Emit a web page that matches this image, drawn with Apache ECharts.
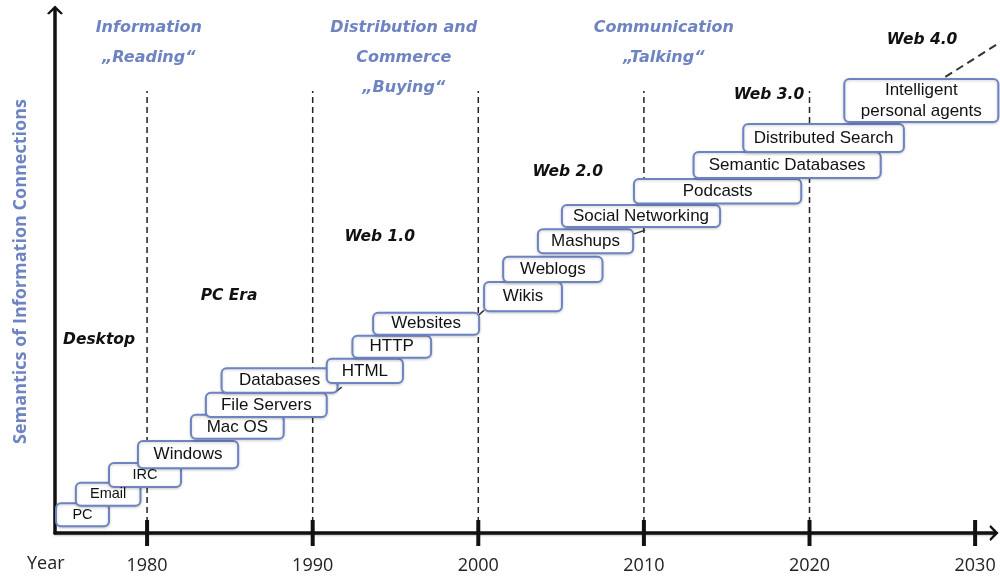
<!DOCTYPE html>
<html>
<head>
<meta charset="utf-8">
<script src="https://cdn.jsdelivr.net/npm/echarts@6/dist/echarts.min.js"></script>
<style>
  html, body { margin: 0; padding: 0; background: #fff; }
  #chart { width: 1000px; height: 576px; }
</style>
</head>
<body>
<div id="chart"></div>
<script>
// web evolution timeline: boxes = technologies (year span x semantic level)
const techNames = ['PC', 'Email', 'IRC', 'Windows', 'Mac OS', 'File Servers', 'Databases', 'HTML', 'HTTP', 'Websites',
  'Wikis', 'Weblogs', 'Mashups', 'Social Networking', 'Podcasts', 'Semantic Databases', 'Distributed Search', 'Intelligent\npersonal agents'];
const techStart = [1974.5, 1975.7, 1977.7, 1979.45, 1982.65, 1983.55, 1984.5, 1990.85, 1992.4, 1993.65,
  2000.35, 2001.5, 2003.6, 2005.05, 2009.4, 2013.0, 2016.0, 2022.1];
const techEnd = [1977.7, 1979.6, 1982.05, 1985.5, 1988.25, 1990.85, 1991.5, 1995.45, 1997.15, 2000.05,
  2005.05, 2007.5, 2009.35, 2014.6, 2019.5, 2024.3, 2025.7, 2031.4];
const techLow = [1.3, 5.2, 8.8, 12.4, 18.0, 22.2, 26.8, 28.7, 33.5, 37.9, 42.4, 48.0, 53.5, 58.5, 63.0, 67.9, 72.85, 78.6];
const techHigh = [5.7, 9.6, 13.4, 17.6, 22.6, 26.8, 31.5, 33.3, 37.7, 42.1, 48.0, 52.8, 58.1, 62.7, 67.7, 72.85, 78.2, 86.8];

const decades = [1980, 1990, 2000, 2010, 2020];
const tickYears = [1980, 1990, 2000, 2010, 2020, 2030];
const dividerTop = 84.5;

// phase captions (blue) and stage captions (black)
const phaseText = ['Information\n„Reading“', 'Distribution and\nCommerce\n„Buying“', 'Communication\n„Talking“'];
const phaseYear = [1980.1, 1995.5, 2011.2];
const phaseLevel = [93.7, 90.8, 93.7];
const stageText = ['Desktop', 'PC Era', 'Web 1.0', 'Web 2.0', 'Web 3.0', 'Web 4.0'];
const stageYear = [1977.1, 1984.95, 1994.05, 2005.4, 2017.55, 2026.8];
const stageLevel = [36.9, 45.4, 56.6, 69.0, 83.7, 94.3];

// small links between boxes [x1, y1, x2, y2], last one is the dashed pointer
const linkFromYear = [1991.4, 2000.04, 2009.4];
const linkFromLevel = [27.0, 41.7, 57.2];
const linkToYear = [1991.75, 2000.35, 2010.07];
const linkToLevel = [27.9, 42.6, 57.9];
const agentArrowFrom = [2028.2, 87.2];
const agentArrowTo = [2031.6, 94.0];

const blue = '#6e83c2';
const chart = echarts.init(document.getElementById('chart'));

const chevron = 'path://M0,10 L10,0 L20,10 L17.5,11.5 L10,4.5 L2.5,11.5 Z';

function segment(dash, width) {
  return function (params, api) {
    const a = api.coord([api.value(0), api.value(1)]);
    const b = api.coord([api.value(2), api.value(3)]);
    return {
      type: 'line',
      shape: { x1: a[0], y1: a[1], x2: b[0], y2: b[1] },
      style: { stroke: '#333', lineWidth: width, lineDash: dash }
    };
  };
}

chart.setOption({
  animation: false,
  grid: { left: 55, right: 6, top: 10, bottom: 43 },
  xAxis: {
    type: 'value',
    min: 1974.44,
    max: 2031.14,
    axisLine: {
      show: true,
      symbol: ['none', chevron],
      symbolSize: [16, 11],
      lineStyle: { color: '#111', width: 3.5, shadowColor: 'rgba(0,0,0,0.25)', shadowBlur: 2, shadowOffsetY: 1 }
    },
    axisTick: { show: false },
    splitLine: { show: false },
    axisLabel: {
      customValues: tickYears,
      formatter: v => String(v),
      margin: 24,
      color: '#222',
      fontSize: 18,
      fontFamily: 'Open Sans'
    }
  },
  yAxis: {
    type: 'value',
    min: 0,
    max: 100,
    name: 'Semantics of Information Connections',
    nameLocation: 'middle',
    nameGap: 25,
    nameTextStyle: { color: blue, fontSize: 18, fontWeight: 'bold', fontFamily: 'Open Sans' },
    axisLine: {
      show: true,
      symbol: ['none', chevron],
      symbolSize: [16, 11],
      lineStyle: { color: '#111', width: 3.5 }
    },
    axisTick: { show: false },
    axisLabel: { show: false },
    splitLine: { show: false }
  },
  graphic: [{
    type: 'text',
    left: 27,
    top: 555,
    style: { text: 'Year', fill: '#222', font: '18px "Open Sans"' }
  }],
  series: [
    {
      // decade dividers
      type: 'custom',
      z: 1,
      silent: true,
      data: decades.map(d => [d, dividerTop]),
      renderItem(params, api) {
        const a = api.coord([api.value(0), 0]);
        const b = api.coord([api.value(0), api.value(1)]);
        return {
          type: 'line',
          shape: { x1: a[0], y1: a[1], x2: b[0], y2: b[1] },
          style: { stroke: '#222', lineWidth: 1.5, lineDash: [6, 4] }
        };
      }
    },
    {
      // decade ticks crossing the time axis
      type: 'custom',
      z: 5,
      silent: true,
      data: tickYears.map(d => [d, 0]),
      renderItem(params, api) {
        const p = api.coord([api.value(0), api.value(1)]);
        return {
          type: 'line',
          shape: { x1: p[0], y1: p[1] - 13, x2: p[0], y2: p[1] + 13 },
          style: { stroke: '#111', lineWidth: 4 }
        };
      }
    },
    {
      type: 'custom',
      z: 2,
      silent: true,
      data: [[agentArrowFrom[0], agentArrowFrom[1], agentArrowTo[0], agentArrowTo[1]]],
      renderItem: segment([8, 5], 2)
    },
    {
      type: 'custom',
      z: 2,
      silent: true,
      data: linkFromYear.map((x, i) => [x, linkFromLevel[i], linkToYear[i], linkToLevel[i]]),
      renderItem: segment(null, 1.5)
    },
    {
      // technology boxes
      type: 'custom',
      z: 3,
      encode: { x: [0, 1], y: [2, 3] },
      data: techNames.map((n, i) => [techStart[i], techEnd[i], techLow[i], techHigh[i], n]),
      renderItem(params, api) {
        const tl = api.coord([api.value(0), api.value(3)]);
        const br = api.coord([api.value(1), api.value(2)]);
        const i = params.dataIndex;
        return {
          type: 'rect',
          shape: { x: tl[0], y: tl[1], width: br[0] - tl[0], height: br[1] - tl[1], r: 5 },
          style: {
            fill: '#fff', stroke: blue, lineWidth: 2,
            shadowColor: 'rgba(0,0,0,0.18)', shadowBlur: 3, shadowOffsetY: 1
          },
          textContent: {
            style: {
              text: techNames[i],
              fill: '#111',
              font: (i < 3 ? 14.5 : 17) + 'px "Liberation Sans"',
              lineHeight: 21,
              align: 'center'
            }
          },
          textConfig: { position: 'inside' }
        };
      }
    },
    {
      type: 'custom',
      z: 4,
      silent: true,
      data: phaseText.map((t, i) => [phaseYear[i], phaseLevel[i]]),
      renderItem(params, api) {
        const p = api.coord([api.value(0), api.value(1)]);
        return {
          type: 'text',
          x: p[0], y: p[1],
          style: {
            text: phaseText[params.dataIndex],
            fill: blue,
            font: 'italic bold 16px "DejaVu Sans"',
            lineHeight: 30,
            align: 'center',
            verticalAlign: 'middle'
          }
        };
      }
    },
    {
      type: 'custom',
      z: 4,
      silent: true,
      data: stageText.map((t, i) => [stageYear[i], stageLevel[i]]),
      renderItem(params, api) {
        const p = api.coord([api.value(0), api.value(1)]);
        return {
          type: 'text',
          x: p[0], y: p[1],
          style: {
            text: stageText[params.dataIndex],
            fill: '#111',
            font: 'italic bold 15.5px "DejaVu Sans"',
            align: 'center',
            verticalAlign: 'middle'
          }
        };
      }
    }
  ]
});
</script>
</body>
</html>
